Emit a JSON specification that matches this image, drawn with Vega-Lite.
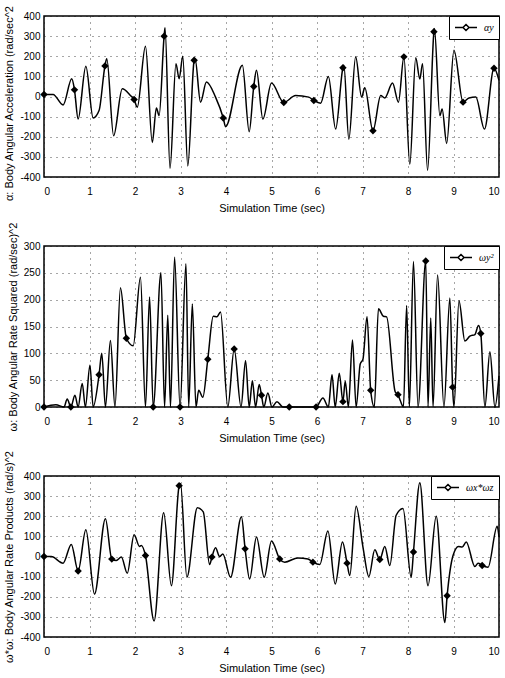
{
  "$schema": "https://vega.github.io/schema/vega-lite/v6.json",
  "background": "white",
  "padding": {"left": 3, "top": 4, "right": 8, "bottom": 3},
  "spacing": 69,
  "bounds": "flush",
  "config": {
    "view": {"stroke": "black", "strokeWidth": 1.5},
    "axis": {
      "labelFont": "Liberation Sans, sans-serif",
      "labelFontSize": 10,
      "labelColor": "black",
      "titleFont": "Liberation Sans, sans-serif",
      "titleFontSize": 11,
      "titleFontWeight": "normal",
      "titleColor": "black",
      "ticks": false,
      "domain": false,
      "grid": true,
      "gridColor": "#111",
      "gridDash": [1, 5],
      "gridWidth": 1,
      "gridOpacity": 0.75
    },
    "axisY": {"titleFontSize": 11, "labelPadding": 4, "titlePadding": 5},
    "axisX": {"labelPadding": 9, "titlePadding": 6},
    "legend": {
      "orient": "top-right",
      "offset": 0,
      "strokeColor": "black",
      "fillColor": "white",
      "padding": 5,
      "symbolType": "M-1,0H0.45M1.55,0H3M1,-0.55L1.55,0L1,0.55L0.45,0Z",
      "symbolSize": 121,
      "symbolStrokeWidth": 1.4,
      "symbolStrokeColor": "black",
      "symbolFillColor": "white",
      "labelOffset": 17,
      "labelFont": "Liberation Serif, serif",
      "labelFontStyle": "italic",
      "labelFontSize": 10,
      "labelColor": "black",
      "title": null
    },
    "line": {"strokeWidth": 1.5}
  },
  "resolve": {"scale": {"color": "independent"}, "legend": {"color": "independent"}},
  "vconcat": [
    {
      "width": 455,
      "height": 161,
      "data": {"values": [
        {"t":0,"v":10,"m":1},{"t":0.2,"v":10},{"t":0.42,"v":-42},{"t":0.61,"v":88},{"t":0.67,"v":33,"m":1},{"t":0.75,"v":-112},{"t":0.92,"v":150},{"t":1.08,"v":-107},{"t":1.21,"v":-70},{"t":1.34,"v":152,"m":1},{"t":1.38,"v":187},{"t":1.53,"v":-195},{"t":1.72,"v":38},{"t":1.9,"v":5},{"t":1.98,"v":-15,"m":1},{"t":2.05,"v":-53},{"t":2.23,"v":250},{"t":2.38,"v":-228},{"t":2.47,"v":-57},{"t":2.53,"v":-95},{"t":2.64,"v":300,"m":1},{"t":2.66,"v":342},{"t":2.77,"v":-357},{"t":2.9,"v":163},{"t":2.97,"v":88},{"t":3.05,"v":200},{"t":3.16,"v":-345},{"t":3.3,"v":180,"m":1},{"t":3.32,"v":188},{"t":3.44,"v":-28},{"t":3.57,"v":72},{"t":3.77,"v":-3},{"t":3.94,"v":-107,"m":1},{"t":3.99,"v":-150},{"t":4.36,"v":155},{"t":4.51,"v":-175},{"t":4.61,"v":50,"m":1},{"t":4.67,"v":130},{"t":4.81,"v":-112},{"t":5.0,"v":67},{"t":5.27,"v":-30,"m":1},{"t":5.53,"v":5},{"t":5.82,"v":-3},{"t":5.93,"v":-20,"m":1},{"t":6.08,"v":-33},{"t":6.25,"v":100},{"t":6.41,"v":-162},{"t":6.57,"v":143,"m":1},{"t":6.59,"v":155},{"t":6.7,"v":-212},{"t":6.85,"v":197},{"t":6.98,"v":-3},{"t":7.05,"v":43},{"t":7.23,"v":-170,"m":1},{"t":7.4,"v":5},{"t":7.49,"v":-7},{"t":7.66,"v":67},{"t":7.79,"v":-28},{"t":7.91,"v":197,"m":1},{"t":8.04,"v":-337},{"t":8.17,"v":193},{"t":8.26,"v":87},{"t":8.32,"v":163},{"t":8.43,"v":-367},{"t":8.57,"v":322,"m":1},{"t":8.58,"v":338},{"t":8.7,"v":-95},{"t":8.75,"v":-62},{"t":8.85,"v":-233},{"t":9.01,"v":230},{"t":9.21,"v":-28,"m":1},{"t":9.34,"v":-7},{"t":9.49,"v":-3},{"t":9.68,"v":-162},{"t":9.89,"v":140,"m":1},{"t":10,"v":80}
      ]},
      "encoding": {
        "x": {"field": "t", "type": "quantitative", "scale": {"domain": [0, 10], "nice": false}, "axis": {"values": [0,1,2,3,4,5,6,7,8,9,10], "title": "Simulation Time (sec)"}},
        "y": {"field": "v", "type": "quantitative", "scale": {"domain": [-400, 400], "nice": false}, "axis": {"values": [-400,-300,-200,-100,0,100,200,300,400], "labelExpr": "'' + datum.value", "title": "α: Body Angular Acceleration (rad/sec^2", "titleY": 87}}
      },
      "layer": [
        {"mark": {"type": "line", "interpolate": "monotone"}, "encoding": {"color": {"datum": "αy", "type": "nominal", "scale": {"range": ["black"]}}}},
        {"transform": [{"filter": "datum.m === 1"}], "mark": {"type": "point", "shape": "diamond", "filled": true, "color": "black", "size": 55, "opacity": 1}}
      ]
    },
    {
      "width": 455,
      "height": 161,
      "data": {"values": [
        {"t":0,"v":0,"m":1},{"t":0.26,"v":4},{"t":0.44,"v":0},{"t":0.51,"v":15},{"t":0.59,"v":0,"m":1},{"t":0.68,"v":22},{"t":0.75,"v":0},{"t":0.84,"v":44},{"t":0.91,"v":0},{"t":1.01,"v":78},{"t":1.08,"v":0},{"t":1.21,"v":60,"m":1},{"t":1.27,"v":100},{"t":1.35,"v":0},{"t":1.46,"v":124},{"t":1.56,"v":0},{"t":1.68,"v":222},{"t":1.81,"v":128,"m":1},{"t":1.96,"v":114},{"t":2.12,"v":242},{"t":2.23,"v":0},{"t":2.32,"v":205},{"t":2.4,"v":0,"m":1},{"t":2.57,"v":250},{"t":2.65,"v":0},{"t":2.72,"v":171},{"t":2.78,"v":0},{"t":2.87,"v":279},{"t":2.99,"v":0,"m":1},{"t":3.12,"v":267},{"t":3.18,"v":0},{"t":3.26,"v":192},{"t":3.34,"v":0},{"t":3.4,"v":31},{"t":3.49,"v":18},{"t":3.6,"v":89,"m":1},{"t":3.72,"v":169},{"t":3.8,"v":168},{"t":3.88,"v":177},{"t":4.04,"v":0},{"t":4.18,"v":108,"m":1},{"t":4.33,"v":0},{"t":4.43,"v":86},{"t":4.51,"v":0},{"t":4.58,"v":49},{"t":4.65,"v":0},{"t":4.73,"v":42},{"t":4.78,"v":22,"m":1},{"t":4.83,"v":0},{"t":4.92,"v":26},{"t":5.01,"v":0},{"t":5.12,"v":10},{"t":5.25,"v":0},{"t":5.39,"v":0,"m":1},{"t":5.98,"v":0,"m":1},{"t":6.13,"v":17},{"t":6.25,"v":0},{"t":6.33,"v":60},{"t":6.4,"v":0},{"t":6.49,"v":63},{"t":6.57,"v":10,"m":1},{"t":6.62,"v":48},{"t":6.69,"v":0},{"t":6.78,"v":125},{"t":6.86,"v":0},{"t":6.95,"v":80},{"t":7.01,"v":89},{"t":7.1,"v":168},{"t":7.18,"v":31,"m":1},{"t":7.26,"v":0},{"t":7.35,"v":183},{"t":7.46,"v":169},{"t":7.53,"v":168},{"t":7.72,"v":28},{"t":7.78,"v":23,"m":1},{"t":7.83,"v":12},{"t":7.9,"v":0},{"t":7.97,"v":189},{"t":8.03,"v":0},{"t":8.12,"v":271},{"t":8.22,"v":0},{"t":8.39,"v":272,"m":1},{"t":8.44,"v":0},{"t":8.5,"v":166},{"t":8.55,"v":0},{"t":8.65,"v":246},{"t":8.79,"v":0},{"t":8.92,"v":203},{"t":8.98,"v":37,"m":1},{"t":9.01,"v":0},{"t":9.12,"v":198},{"t":9.25,"v":123},{"t":9.36,"v":132},{"t":9.47,"v":135},{"t":9.55,"v":152},{"t":9.6,"v":137,"m":1},{"t":9.69,"v":0},{"t":9.8,"v":103},{"t":9.91,"v":0},{"t":10,"v":58}
      ]},
      "encoding": {
        "x": {"field": "t", "type": "quantitative", "scale": {"domain": [0, 10], "nice": false}, "axis": {"values": [0,1,2,3,4,5,6,7,8,9,10], "title": "Simulation Time (sec)"}},
        "y": {"field": "v", "type": "quantitative", "scale": {"domain": [0, 300], "nice": false}, "axis": {"values": [0,50,100,150,200,250,300], "labelExpr": "'' + datum.value", "title": "ω: Body Angular Rate Squared (rad/sec)^2"}}
      },
      "layer": [
        {"mark": {"type": "line", "interpolate": "monotone"}, "encoding": {"color": {"datum": "ωy²", "type": "nominal", "scale": {"range": ["black"]}}}},
        {"transform": [{"filter": "datum.m === 1"}], "mark": {"type": "point", "shape": "diamond", "filled": true, "color": "black", "size": 55, "opacity": 1}}
      ]
    },
    {
      "width": 455,
      "height": 161,
      "data": {"values": [
        {"t":0,"v":0,"m":1},{"t":0.16,"v":0},{"t":0.42,"v":-33},{"t":0.6,"v":60},{"t":0.75,"v":-72,"m":1},{"t":0.92,"v":133},{"t":1.11,"v":-187},{"t":1.35,"v":188},{"t":1.49,"v":-13,"m":1},{"t":1.59,"v":-20},{"t":1.7,"v":-3},{"t":1.83,"v":-83},{"t":1.98,"v":108},{"t":2.1,"v":50},{"t":2.14,"v":55},{"t":2.23,"v":5,"m":1},{"t":2.42,"v":-320},{"t":2.63,"v":217},{"t":2.8,"v":-145},{"t":2.97,"v":352,"m":1},{"t":3.0,"v":363},{"t":3.14,"v":-103},{"t":3.37,"v":242},{"t":3.5,"v":222},{"t":3.64,"v":-40},{"t":3.69,"v":-3,"m":1},{"t":3.77,"v":43},{"t":3.86,"v":0},{"t":3.93,"v":13},{"t":4.1,"v":-103},{"t":4.34,"v":197},{"t":4.42,"v":38,"m":1},{"t":4.52,"v":-112},{"t":4.67,"v":97},{"t":4.84,"v":-103},{"t":5.0,"v":77},{"t":5.18,"v":-12,"m":1},{"t":5.29,"v":-28},{"t":5.58,"v":-7},{"t":5.8,"v":-12},{"t":5.91,"v":-28,"m":1},{"t":6.06,"v":-40},{"t":6.24,"v":127},{"t":6.4,"v":-137},{"t":6.56,"v":72},{"t":6.66,"v":-33,"m":1},{"t":6.72,"v":-95},{"t":6.86,"v":250},{"t":7.01,"v":47},{"t":7.14,"v":-100},{"t":7.27,"v":33},{"t":7.38,"v":-15,"m":1},{"t":7.49,"v":50},{"t":7.6,"v":-45},{"t":7.74,"v":205},{"t":7.89,"v":238},{"t":8.07,"v":-103},{"t":8.12,"v":22,"m":1},{"t":8.26,"v":367},{"t":8.44,"v":-145},{"t":8.62,"v":200},{"t":8.81,"v":-328},{"t":8.86,"v":-195,"m":1},{"t":8.99,"v":5},{"t":9.11,"v":50},{"t":9.19,"v":47},{"t":9.28,"v":72},{"t":9.47,"v":-50},{"t":9.54,"v":-33},{"t":9.63,"v":-45,"m":1},{"t":9.76,"v":-53},{"t":9.96,"v":150},{"t":10,"v":97}
      ]},
      "encoding": {
        "x": {"field": "t", "type": "quantitative", "scale": {"domain": [0, 10], "nice": false}, "axis": {"values": [0,1,2,3,4,5,6,7,8,9,10], "title": "Simulation Time (sec)"}},
        "y": {"field": "v", "type": "quantitative", "scale": {"domain": [-400, 400], "nice": false}, "axis": {"values": [-400,-300,-200,-100,0,100,200,300,400], "labelExpr": "'' + datum.value", "title": "ω*ω: Body Angular Rate Products (rad/s)^2"}}
      },
      "layer": [
        {"mark": {"type": "line", "interpolate": "monotone"}, "encoding": {"color": {"datum": "ωx*ωz", "type": "nominal", "scale": {"range": ["black"]}}}},
        {"transform": [{"filter": "datum.m === 1"}], "mark": {"type": "point", "shape": "diamond", "filled": true, "color": "black", "size": 55, "opacity": 1}}
      ]
    }
  ]
}
